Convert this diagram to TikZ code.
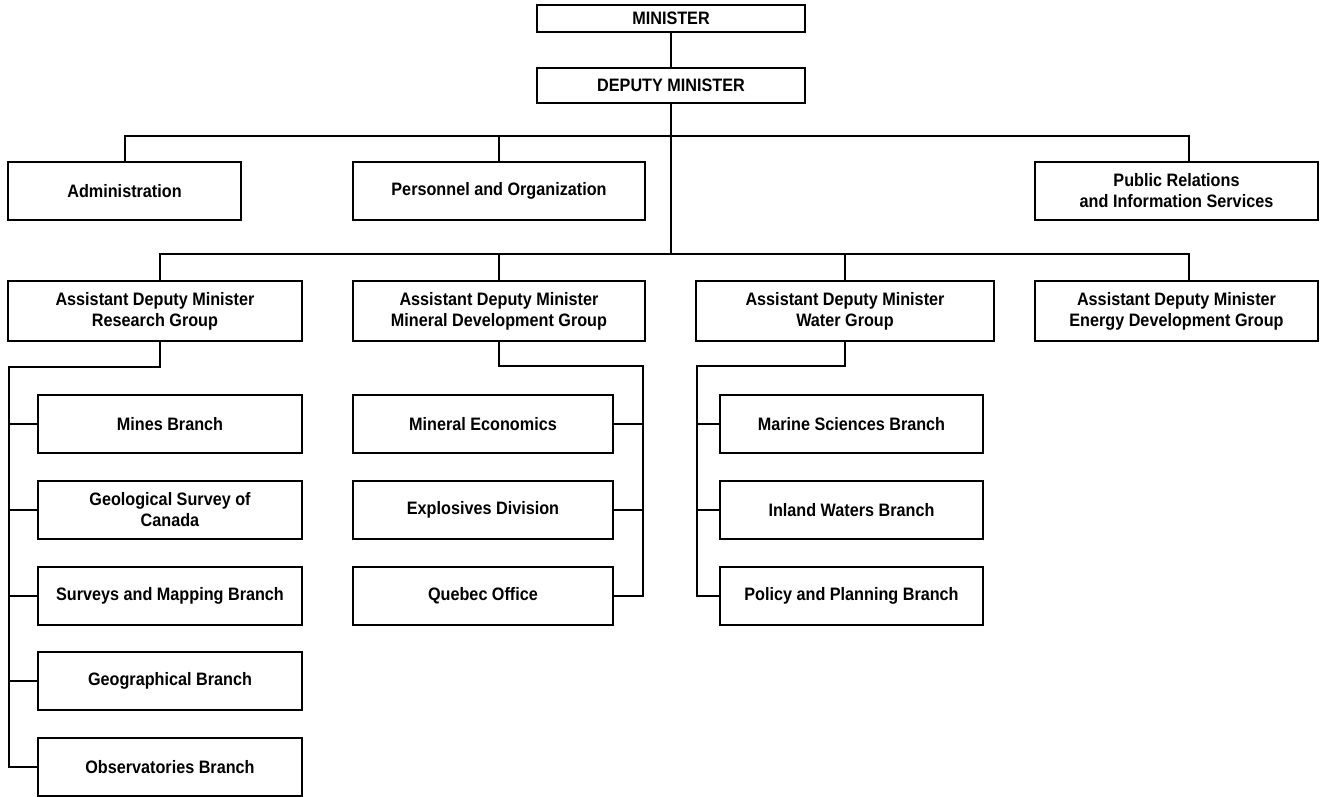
\documentclass[tikz,border=0pt]{standalone}
\usepackage{fontspec}
\setmainfont{Liberation Sans}[FakeStretch=0.9]
\usepackage{tikz}
\usetikzlibrary{calc}
\usetikzlibrary{positioning}

\begin{document}
\begin{tikzpicture}[x=1pt, y=-1pt,
		unit/.style={draw, line width=1.1pt, align=center, inner sep=0pt, font=\fontsize{18}{21}\selectfont\bfseries},
		toprow/.style={unit, minimum height=58pt},
		adm/.style={unit, minimum height=60pt},
		sub/.style={unit, minimum height=58pt},
		link/.style={line width=2pt, line cap=rect}]
					\useasboundingbox (0, 0) rectangle (1320, 796);

					% top of the chart
					\node[unit, minimum width=268pt, minimum height=27pt] (min) at (671, 18.5) {MINISTER};
					\node[unit, minimum width=268pt, minimum height=35pt] (dep) at (671, 85.5) {DEPUTY MINISTER};
					\coordinate (bar1) at (671, 136);
					\coordinate (bar2) at (671, 254);

					% staff units
					\node[toprow, minimum width=233pt] (adm) at (124.5, 191) {Administration};
					\node[toprow, minimum width=292pt] (per) at (499, 191) {Personnel and Organization};
					\node[toprow, minimum width=283pt] (pr) at (1176.5, 191) {Public Relations\\and Information Services};

					% assistant deputy ministers
					\node[adm, minimum width=294pt] (res) at (155, 311) {Assistant Deputy Minister\\Research Group};
					\node[adm, minimum width=292pt] (mdg) at (499, 311) {Assistant Deputy Minister\\Mineral Development Group};
					\node[adm, minimum width=298pt] (wat) at (845, 311) {Assistant Deputy Minister\\Water Group};
					\node[adm, minimum width=283pt] (ene) at (1176.5, 311) {Assistant Deputy Minister\\Energy Development Group};

					% research branches
					\node[sub, minimum width=264pt] (mines) at (170, 424) {Mines Branch};
					\node[sub, minimum width=264pt] (gsc) at (170, 510) {Geological Survey of\\Canada};
					\node[sub, minimum width=264pt] (smb) at (170, 596) {Surveys and Mapping Branch};
					\node[sub, minimum width=264pt] (geo) at (170, 681) {Geographical Branch};
					\node[sub, minimum width=264pt] (obs) at (170, 767) {Observatories Branch};

					% mineral development branches
					\node[sub, minimum width=260pt] (mec) at (483, 424) {Mineral Economics};
					\node[sub, minimum width=260pt] (exd) at (483, 510) {Explosives Division};
					\node[sub, minimum width=260pt] (qof) at (483, 596) {Quebec Office};

					% water branches
					\node[sub, minimum width=263pt] (msb) at (851.5, 424) {Marine Sciences Branch};
					\node[sub, minimum width=263pt] (iwb) at (851.5, 510) {Inland Waters Branch};
					\node[sub, minimum width=263pt] (ppb) at (851.5, 596) {Policy and Planning Branch};

					% connectors
					\draw[link] (min) -- (dep);
					\draw[link] (dep) -- (bar2);
					\draw[link] (adm.north) |- (bar1) -| ([xshift=12.5pt]pr.north);
					\draw[link] (per.north) -- (per.north |- bar1);
					\draw[link] ([xshift=5pt]res.north) |- (bar2) -| ([xshift=12.5pt]ene.north);
					\draw[link] (mdg.north) -- (mdg.north |- bar2);
					\draw[link] (wat.north) -- (wat.north |- bar2);

					\coordinate (rtrunk) at (9, 367);
					\coordinate (mtrunk) at (643, 366);
					\coordinate (wtrunk) at (697, 366);
					\draw[link] ([xshift=5pt]res.south) |- (rtrunk) -- (rtrunk |- obs.west);
					\draw[link] (mdg.south) |- (mtrunk) -- (mtrunk |- qof.east);
					\draw[link] (wat.south) |- (wtrunk) -- (wtrunk |- ppb.west);
					\foreach \b in {mines, gsc, smb, geo, obs}
						\draw[link] (\b.west) -- (\b.west -| rtrunk);
					\foreach \b in {mec, exd, qof}
						\draw[link] (\b.east) -- (\b.east -| mtrunk);
					\foreach \b in {msb, iwb, ppb}
						\draw[link] (\b.west) -- (\b.west -| wtrunk);
                \end{tikzpicture}
\end{document}
